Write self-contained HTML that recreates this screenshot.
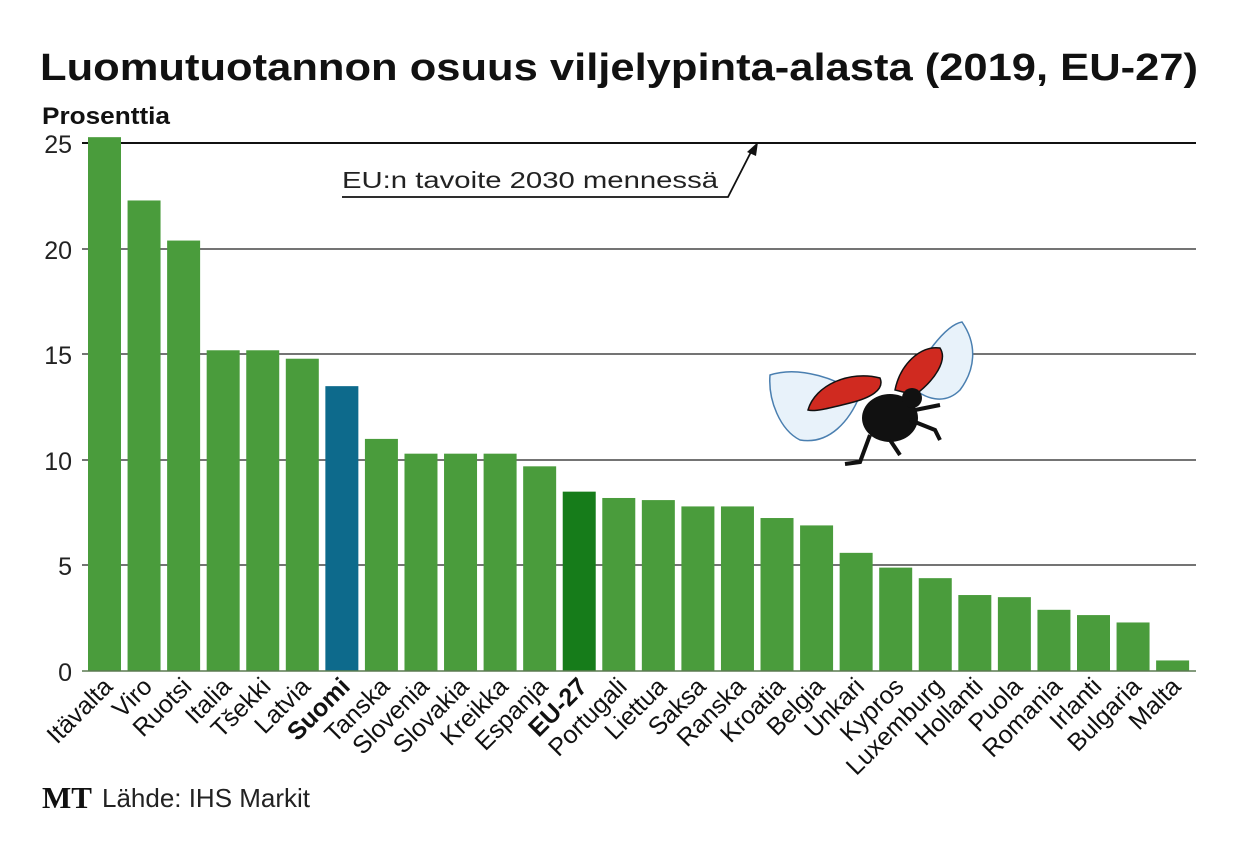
<!DOCTYPE html>
<html><head><meta charset="utf-8"><style>
html,body{margin:0;padding:0;background:#fff}
svg{display:block;font-family:"Liberation Sans",sans-serif}
</style></head><body>
<svg width="1240" height="854" viewBox="0 0 1240 854" xmlns="http://www.w3.org/2000/svg">
<text x="40" y="80" font-size="38" font-weight="bold" fill="#111" textLength="1158" lengthAdjust="spacingAndGlyphs">Luomutuotannon osuus viljelypinta-alasta (2019, EU-27)</text>
<text x="42" y="124" font-size="24" font-weight="bold" fill="#111" textLength="128" lengthAdjust="spacingAndGlyphs">Prosenttia</text>
<g stroke="#222" stroke-width="1.3">
<line x1="82" y1="249" x2="1196" y2="249"/>
<line x1="82" y1="354" x2="1196" y2="354"/>
<line x1="82" y1="460" x2="1196" y2="460"/>
<line x1="82" y1="565" x2="1196" y2="565"/>
</g>
<line x1="82" y1="143" x2="1196" y2="143" stroke="#111" stroke-width="2"/>
<g font-size="25" fill="#222" text-anchor="end">
<text x="72" y="153">25</text><text x="72" y="259">20</text><text x="72" y="364">15</text><text x="72" y="470">10</text><text x="72" y="575">5</text><text x="72" y="681">0</text>
</g>
<text x="342" y="188" font-size="23" fill="#222" textLength="376" lengthAdjust="spacingAndGlyphs">EU:n tavoite 2030 mennessä</text>
<polyline points="342,197 728,197 752,150" fill="none" stroke="#111" stroke-width="1.8"/>
<polygon points="758,142 747,152 756,156" fill="#111"/>
<g id="bars"></g>
<line x1="82" y1="671" x2="1196" y2="671" stroke="#5a7a50" stroke-width="1.5"/>
<g id="labels" font-size="25" fill="#111" text-anchor="end"></g>
<g>
<path d="M770,375 C800,365 840,380 860,395 C850,420 830,445 800,440 C780,430 768,400 770,375Z" fill="#e8f2fa" stroke="#4a7fb0" stroke-width="1.5"/>
<path d="M910,385 C920,360 945,325 962,322 C978,345 975,370 960,390 C945,405 925,400 910,385Z" fill="#e8f2fa" stroke="#4a7fb0" stroke-width="1.5"/>
<path d="M808,410 C815,385 850,370 880,378 C885,390 870,398 850,403 C830,408 815,412 808,410Z" fill="#d02a20" stroke="#111" stroke-width="1.5"/>
<path d="M895,390 C900,365 920,345 940,348 C948,360 935,380 915,395Z" fill="#d02a20" stroke="#111" stroke-width="1.5"/>
<ellipse cx="890" cy="418" rx="28" ry="24" fill="#111"/>
<circle cx="912" cy="398" r="10" fill="#111"/>
<path d="M870,435 L860,462 L845,464 M890,440 L900,455 M910,420 L935,430 L940,440 M915,410 L940,405" stroke="#111" stroke-width="4" fill="none"/>
</g>
<text x="42" y="808" font-size="31" font-weight="bold" font-family="Liberation Serif,serif" fill="#111">MT</text>
<text x="102" y="807" font-size="26" fill="#222" textLength="208" lengthAdjust="spacingAndGlyphs">Lähde: IHS Markit</text>
<script>
var d=[["Itävalta",25.3],["Viro",22.3],["Ruotsi",20.4],["Italia",15.2],["Tšekki",15.2],["Latvia",14.8],["Suomi",13.5],["Tanska",11.0],["Slovenia",10.3],["Slovakia",10.3],["Kreikka",10.3],["Espanja",9.7],["EU-27",8.5],["Portugali",8.2],["Liettua",8.1],["Saksa",7.8],["Ranska",7.8],["Kroatia",7.25],["Belgia",6.9],["Unkari",5.6],["Kypros",4.9],["Luxemburg",4.4],["Hollanti",3.6],["Puola",3.5],["Romania",2.9],["Irlanti",2.65],["Bulgaria",2.3],["Malta",0.5]];
var ns="http://www.w3.org/2000/svg",b=document.getElementById("bars"),l=document.getElementById("labels");
d.forEach(function(r,i){var x=88+i*39.56,h=r[1]*21.1;
var e=document.createElementNS(ns,"rect");e.setAttribute("x",x);e.setAttribute("y",671-h);e.setAttribute("width",33);e.setAttribute("height",h);
e.setAttribute("fill",r[0]=="Suomi"?"#0d6a8c":r[0]=="EU-27"?"#167c1a":"#4a9c3c");b.appendChild(e);
var t=document.createElementNS(ns,"text");var cx=x+26,cy=688;t.setAttribute("x",cx);t.setAttribute("y",cy);
t.setAttribute("transform","rotate(-45 "+cx+" "+cy+")");if(r[0]=="Suomi"||r[0]=="EU-27")t.setAttribute("font-weight","bold");
t.textContent=r[0];l.appendChild(t);});
</script>
</svg>
</body></html>
